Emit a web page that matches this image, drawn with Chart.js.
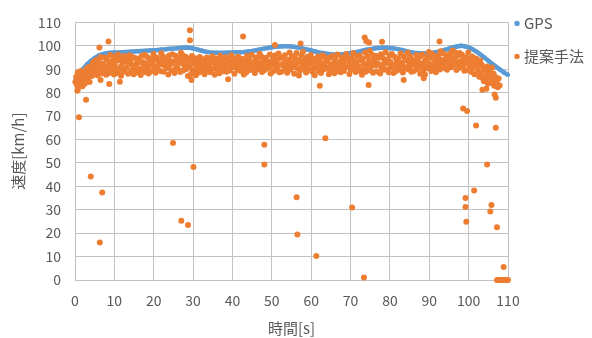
<!DOCTYPE html>
<html>
<head>
<meta charset="utf-8">
<script src="https://cdn.jsdelivr.net/npm/chart.js@4"></script>
<style>
  html, body { margin: 0; padding: 0; background: #fff; }
  #wrap { width: 592px; height: 338px; }
</style>
</head>
<body>
<div id="wrap"><canvas id="speedChart" width="592" height="338"></canvas></div>
<script>
// GPS speed, one value per second (t = 0 .. 110)
const gpsSpeed = [
  85, 87.5, 90, 92, 93.5, 94.8, 95.8, 96.4, 96.8, 97, 97.1,
  97.2, 97.3, 97.4, 97.5, 97.6, 97.7, 97.8, 97.9, 98, 98.1,
  98.2, 98.4, 98.5, 98.7, 98.8, 99, 99.2, 99.3, 99.2, 98.9,
  98.5, 98, 97.6, 97.3, 97.1, 97, 97, 97, 97.1, 97.2,
  97.3, 97.3, 97.4, 97.6, 97.8, 98.1, 98.5, 98.8, 99.1, 99.4,
  99.6, 99.7, 99.8, 99.8, 99.7, 99.5, 99.2, 98.8, 98.4, 98,
  97.6, 97.2, 96.9, 96.6, 96.4, 96.3, 96.3, 96.4, 96.6, 96.9,
  97.2, 97.5, 97.9, 98.3, 98.6, 98.9, 99.1, 99.2, 99.2, 99.1,
  98.9, 98.6, 98.2, 97.8, 97.4, 97.1, 96.9, 96.8, 96.8, 96.9,
  97.1, 97.4, 97.8, 98.3, 98.8, 99.3, 99.7, 100, 99.8, 99.3,
  98.5, 97.5, 96.3, 95, 93.6, 92.3, 91, 89.8, 88.6, 87.6
];

// proposed method, samples grouped by second (row index = second)
const methodSpeed = [
  [84.5, 86.8, 83.2, 88.6, 85.1],
  [87.2, 84.0, 89.3, 85.9, 82.7],
  [85.4, 88.1, 83.8, 87.5, 90.2],
  [88.4, 86.2, 91.0, 84.6, 89.5],
  [90.3, 87.1, 92.6, 88.8, 93.4],
  [91.2, 89.0, 94.1, 87.4, 92.5],
  [93.0, 90.4, 95.2, 88.2, 92.1],
  [92.4, 89.6, 95.0, 91.3, 87.6],
  [94.2, 90.5, 88.3, 92.7, 96.1],
  [91.4, 93.3, 89.2, 95.4, 87.8],
  [92.2, 90.1, 94.5, 88.4, 96.3],
  [89.6, 93.7, 91.0, 87.2, 94.9],
  [92.8, 88.9, 95.6, 90.3, 93.4],
  [90.7, 94.2, 88.1, 92.5, 96.0],
  [93.6, 89.4, 91.8, 95.1, 87.9],
  [91.1, 94.8, 89.9, 92.6, 88.6],
  [94.4, 90.2, 92.9, 87.5, 95.7],
  [89.8, 93.1, 91.5, 96.2, 88.7],
  [92.3, 95.3, 90.6, 88.2, 94.0],
  [91.7, 89.1, 94.6, 92.0, 96.5],
  [93.9, 90.8, 88.5, 95.0, 91.3],
  [90.0, 92.7, 94.3, 89.3, 96.8],
  [92.1, 95.5, 88.9, 91.6, 93.8],
  [94.7, 90.5, 92.4, 87.7, 95.9],
  [91.9, 93.5, 89.6, 96.4, 92.8],
  [93.2, 88.4, 95.8, 90.9, 94.1],
  [90.4, 92.9, 94.9, 88.8, 97.0],
  [92.6, 96.1, 89.5, 93.9, 91.2],
  [95.3, 90.1, 92.2, 87.1, 94.5],
  [91.0, 93.8, 88.0, 95.6, 89.7],
  [92.5, 89.0, 94.7, 87.4, 91.8],
  [90.2, 93.3, 88.6, 95.2, 92.0],
  [93.7, 91.1, 89.4, 94.3, 87.9],
  [89.3, 92.4, 95.0, 90.7, 93.1],
  [91.6, 88.7, 93.9, 90.0, 95.5],
  [92.9, 90.3, 87.6, 94.6, 91.4],
  [89.9, 93.6, 91.0, 88.3, 95.8],
  [93.0, 90.6, 94.2, 89.1, 92.2],
  [91.3, 95.1, 88.9, 92.7, 90.0],
  [94.0, 89.5, 92.3, 96.0, 90.8],
  [90.9, 93.4, 88.1, 91.7, 94.8],
  [92.0, 89.8, 95.3, 90.5, 93.2],
  [89.2, 92.8, 94.4, 91.1, 87.8],
  [93.5, 90.4, 88.6, 95.7, 92.1],
  [91.5, 94.1, 89.7, 92.9, 96.2],
  [90.1, 93.0, 91.9, 88.4, 95.0],
  [94.3, 89.9, 92.6, 90.7, 96.6],
  [92.4, 95.4, 88.8, 93.7, 91.0],
  [89.6, 92.2, 94.9, 90.3, 93.3],
  [93.1, 90.6, 96.3, 88.2, 92.5],
  [91.8, 94.6, 89.3, 95.9, 92.9],
  [90.5, 93.9, 91.2, 96.7, 88.7],
  [94.8, 92.0, 89.0, 95.1, 91.6],
  [92.7, 96.0, 90.2, 93.4, 88.5],
  [91.3, 94.0, 97.2, 89.8, 93.0],
  [95.6, 90.9, 92.3, 88.1, 94.7],
  [92.1, 96.9, 90.4, 93.8, 87.3],
  [89.4, 93.2, 95.8, 91.5, 97.5],
  [93.6, 90.0, 92.8, 88.6, 95.2],
  [91.1, 94.3, 89.7, 92.4, 96.1],
  [92.9, 88.9, 94.5, 90.6, 87.4],
  [90.3, 93.5, 91.7, 95.4, 89.2],
  [94.1, 91.0, 88.4, 92.6, 96.0],
  [89.9, 92.3, 95.1, 90.8, 93.7],
  [93.3, 90.1, 87.9, 94.9, 91.5],
  [91.9, 95.7, 89.5, 92.7, 88.3],
  [94.4, 90.7, 92.0, 96.3, 89.1],
  [90.6, 93.1, 88.7, 95.0, 91.8],
  [92.5, 89.3, 94.2, 90.9, 96.5],
  [95.2, 91.4, 93.6, 88.0, 92.2],
  [89.7, 94.7, 91.0, 96.8, 90.4],
  [93.4, 88.8, 92.9, 95.5, 91.3],
  [91.2, 95.9, 89.4, 93.9, 87.6],
  [94.6, 92.4, 90.2, 97.1, 88.9],
  [92.0, 95.3, 89.6, 93.6, 97.8],
  [90.8, 93.0, 96.2, 88.5, 94.4],
  [93.7, 91.6, 95.6, 89.0, 92.3],
  [91.9, 94.9, 88.2, 96.4, 90.5],
  [95.0, 92.1, 89.8, 93.8, 97.3],
  [90.0, 94.1, 92.7, 88.7, 95.8],
  [93.2, 90.9, 96.5, 91.7, 88.4],
  [91.4, 95.2, 89.1, 93.5, 92.6],
  [94.5, 90.3, 92.0, 96.7, 89.5],
  [92.8, 88.6, 95.4, 91.0, 93.9],
  [90.6, 93.7, 97.0, 89.9, 92.4],
  [95.5, 91.5, 88.9, 94.0, 92.9],
  [89.2, 93.3, 91.8, 96.1, 90.1],
  [94.3, 90.7, 92.5, 88.1, 95.7],
  [91.6, 96.3, 89.6, 93.1, 87.8],
  [93.9, 91.0, 95.0, 90.4, 97.4],
  [92.2, 94.8, 89.3, 96.6, 91.7],
  [95.4, 90.8, 93.4, 88.7, 94.6],
  [91.3, 96.0, 92.7, 89.9, 97.7],
  [94.0, 92.0, 96.8, 90.6, 93.6],
  [92.9, 95.9, 89.8, 94.4, 91.4],
  [96.5, 93.2, 90.9, 95.1, 98.0],
  [91.8, 94.7, 97.3, 92.6, 89.7],
  [95.6, 93.0, 90.5, 96.9, 92.1],
  [93.5, 96.2, 91.2, 94.8, 89.4],
  [92.3, 95.0, 89.6, 93.9, 97.1],
  [94.1, 91.0, 92.8, 88.8, 95.4],
  [90.7, 93.3, 87.9, 92.0, 94.6],
  [92.5, 89.2, 91.4, 86.8, 93.7],
  [88.4, 91.9, 86.3, 90.6, 84.9],
  [89.9, 85.7, 88.1, 91.2, 83.8],
  [86.6, 89.5, 84.2, 87.8, 90.7],
  [85.3, 88.2, 82.9, 86.9, 84.0],
  [84.6, 82.3, 86.0, 83.1]
];

// proposed method, isolated samples [time, speed]
const methodOutliers = [
  [0.6, 80.8], [0.7, 81.5], [1, 69.5], [2.8, 77], [4, 44.2], [6.3, 16], [6.9, 37.4],
  [6.2, 99.3], [6.5, 85.4], [8.5, 101.8], [8.7, 83.7], [11.4, 84.7],
  [24.9, 58.5], [27, 25.3], [28.7, 23.5], [29.2, 106.7], [29.2, 102.4], [29.6, 85.4], [30.1, 48.2],
  [38.9, 85.7], [42.7, 104], [48.1, 57.8], [48.1, 49.3], [50.8, 100.3],
  [56.3, 35.3], [56.5, 19.4], [57.3, 101], [61.3, 10.3], [62.2, 83], [63.6, 60.5],
  [70.4, 31], [73.4, 1.1], [73.6, 103.5], [74, 102], [74.7, 101.4], [74.6, 83.3],
  [78, 101.7], [83.5, 85.4], [88.6, 86.1], [92.6, 101.8],
  [98.6, 73.2], [99.6, 72.2], [99.2, 35], [99.2, 31.2], [99.4, 24.9],
  [101.4, 38.2], [101.9, 66], [103.5, 81.2], [104.5, 81.7], [104.7, 49.3],
  [105.5, 29.3], [105.8, 32], [106.6, 79.2], [106.9, 77.8], [106.9, 65], [107.2, 22.5],
  [107.2, 0], [107.6, 0], [108, 0], [108.3, 0], [108.6, 0], [108.9, 5.5], [109, 0],
  [109.3, 0], [109.6, 0], [110, 0]
];

const xTicks = [0, 10, 20, 30, 40, 50, 60, 70, 80, 90, 100, 110];
const yTicks = [0, 10, 20, 30, 40, 50, 60, 70, 80, 90, 100, 110];

const gpsPoints = gpsSpeed.map((v, i) => ({ x: i, y: v }));
const methodPoints = [];
methodSpeed.forEach((row, sec) => {
  row.forEach((v, j) => methodPoints.push({ x: sec + (j + 0.5) / row.length, y: v }));
});
methodOutliers.forEach(p => methodPoints.push({ x: p[0], y: p[1] }));

const textColor = "#595959";
const gridColor = "#c2c2c2";
const jpFont = '"Noto Sans CJK JP", "Noto Sans", sans-serif';

// legend drawn beside the plot, Excel style
const sideLegend = {
  id: "sideLegend",
  afterDraw(chart) {
    const ctx = chart.ctx;
    const x = chart.chartArea.right + 9;
    let y = chart.chartArea.top + 1;
    ctx.save();
    chart.data.datasets.forEach(ds => {
      ctx.fillStyle = ds.backgroundColor;
      ctx.beginPath();
      ctx.arc(x, y, 2.7, 0, Math.PI * 2);
      ctx.fill();
      ctx.fillStyle = textColor;
      ctx.font = "15px " + jpFont;
      ctx.textBaseline = "middle";
      ctx.fillText(ds.label, x + 7, y);
      y += 33;
    });
    ctx.restore();
  }
};

const ctx = document.getElementById("speedChart").getContext("2d");
new Chart(ctx, {
  type: "scatter",
  data: {
    datasets: [
      {
        label: "GPS",
        data: gpsPoints,
        order: 2,
        showLine: true,
        borderColor: "#5b9bd5",
        backgroundColor: "#5b9bd5",
        borderWidth: 4.5,
        pointRadius: 2.2,
        pointBorderWidth: 0,
        clip: false
      },
      {
        label: "提案手法",
        data: methodPoints,
        order: 1,
        borderColor: "#ed7d31",
        backgroundColor: "#ed7d31",
        pointRadius: 3,
        pointBorderWidth: 0,
        clip: false
      }
    ]
  },
  options: {
    responsive: false,
    animation: false,
    layout: { padding: { left: 0, right: 84, top: 16, bottom: 0 } },
    plugins: { legend: { display: false }, tooltip: { enabled: false } },
    scales: {
      x: {
        type: "linear",
        min: 0,
        max: 110,
        afterFit: s => { s.height = 58; },
        afterBuildTicks: s => { s.ticks = xTicks.map(v => ({ value: v })); },
        grid: { color: gridColor, drawTicks: false },
        border: { color: gridColor },
        ticks: { color: textColor, font: { family: jpFont, size: 14 }, padding: 12, maxRotation: 0 },
        title: { display: true, text: "時間[s]", color: textColor, font: { family: jpFont, size: 15 }, padding: { top: 0, bottom: 1 } }
      },
      y: {
        min: 0,
        max: 110,
        afterFit: s => { s.width = 75; },
        afterBuildTicks: s => { s.ticks = yTicks.map(v => ({ value: v })); },
        grid: { color: gridColor, drawTicks: false },
        border: { color: gridColor },
        ticks: { color: textColor, font: { family: jpFont, size: 14 }, padding: 14 },
        title: { display: true, text: "速度[km/h]", color: textColor, font: { family: jpFont, size: 15 }, padding: { top: 9, bottom: 0 } }
      }
    }
  },
  plugins: [sideLegend]
});
</script>
</body>
</html>
